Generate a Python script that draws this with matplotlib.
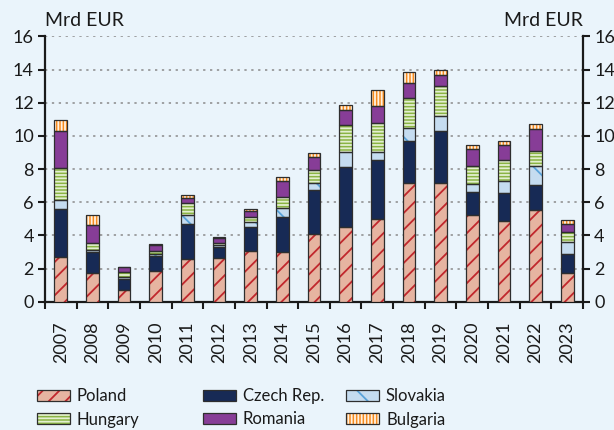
import numpy as np
import matplotlib
matplotlib.use("Agg")
import matplotlib.pyplot as plt
import matplotlib.patches as mpatches

# FDI inflows to the CEE-6, billions of EUR
years = [str(y) for y in range(2007, 2024)]
poland   = [2.68, 1.76, 0.72, 1.86, 2.56, 2.66, 3.08, 3.00, 4.08, 4.50, 5.00, 7.16, 7.18, 5.22, 4.88, 5.54, 1.74]
czech    = [2.90, 1.24, 0.62, 0.88, 2.10, 0.64, 1.42, 2.08, 2.64, 3.62, 3.54, 2.52, 3.14, 1.38, 1.68, 1.52, 1.16]
slovakia = [0.56, 0.14, 0.12, 0.12, 0.58, 0.14, 0.28, 0.58, 0.42, 0.88, 0.50, 0.80, 0.88, 0.50, 0.74, 1.10, 0.72]
hungary  = [1.92, 0.40, 0.34, 0.20, 0.72, 0.10, 0.34, 0.64, 0.80, 1.66, 1.76, 1.82, 1.82, 1.08, 1.26, 0.92, 0.60]
romania  = [2.24, 1.10, 0.28, 0.38, 0.28, 0.30, 0.34, 0.96, 0.80, 0.92, 0.98, 0.90, 0.68, 1.00, 0.90, 1.34, 0.48]
bulgaria = [0.64, 0.58, 0.04, 0.06, 0.20, 0.04, 0.12, 0.24, 0.22, 0.26, 0.96, 0.66, 0.30, 0.28, 0.26, 0.28, 0.22]

series = [
    # label, values, fill, hatch, hatch colour
    ("Poland",     poland,   "#E6B4A1", "//",    "#C1272D"),
    ("Czech Rep.", czech,    "#172A55", "",      "#172A55"),
    ("Slovakia",   slovakia, "#C5DCF0", "\\",    "#5AA3DA"),
    ("Hungary",    hungary,  "#8AB443", "-----", "#E3EFD0"),
    ("Romania",    romania,  "#873D97", "",      "#873D97"),
    ("Bulgaria",   bulgaria, "#F68B1F", "|||||", "#FFF1E0"),
]

bg = "#EAF4FB"
edge = "#2E2E2E"
plt.rcParams["font.family"] = ["Lato", "DejaVu Sans"]
plt.rcParams["hatch.linewidth"] = 1.3

fig = plt.figure(figsize=(6.14, 4.30), dpi=100, facecolor=bg)
ax = fig.add_axes([45 / 614, 1 - 301.7 / 430, 538 / 614, (301.7 - 36.4) / 430])
ax.set_facecolor(bg)

x = np.arange(len(years))
width = 0.4
bottom = np.zeros(len(years))
handles = {}
for label, vals, fill, hatch, hcol in series:
    vals = np.array(vals)
    # fill + hatch first, then the dark outline on top
    ax.bar(x, vals, width, bottom=bottom, color=fill, edgecolor=hcol,
           hatch=hatch, linewidth=0, zorder=3)
    ax.bar(x, vals, width, bottom=bottom, fill=False, edgecolor=edge,
           linewidth=0.9, zorder=4)
    h_fill = mpatches.Patch(facecolor=fill, edgecolor=hcol, hatch=hatch, linewidth=0)
    h_edge = mpatches.Patch(fill=False, edgecolor=edge, linewidth=0.9)
    handles[label] = (h_fill, h_edge)
    bottom += vals

ax.set_xlim(-0.5, len(years) - 0.5)
ax.set_ylim(0, 16)
ax.set_yticks(np.arange(0, 17, 2))
ax.set_xticks(x)
ax.set_xticklabels(years, rotation=90, fontsize=13, color="#1a1a1a")
ax.set_xticks(np.arange(-0.5, len(years), 1), minor=True)
ax.tick_params(axis="x", which="major", length=0, pad=14)
ax.tick_params(axis="x", which="minor", length=5, width=1.5, direction="out", color="#1a1a1a")
ax.tick_params(axis="y", length=5, width=1.5, direction="out", labelsize=13,
               left=True, right=True, labelleft=True, labelright=True,
               color="#1a1a1a", labelcolor="#1a1a1a", pad=3)

for side in ["left", "right", "bottom"]:
    ax.spines[side].set_linewidth(1.6)
    ax.spines[side].set_color("#1a1a1a")
ax.spines["top"].set_visible(False)

ax.yaxis.grid(True, linestyle=(0, (1.5, 3)), color="#8A8A8A", linewidth=1.1, zorder=0)
ax.set_axisbelow(True)

fig.text(45 / 614, 1 - 26 / 430, "Mrd EUR", fontsize=14, ha="left", va="baseline", color="#1a1a1a")
fig.text(583 / 614, 1 - 26 / 430, "Mrd EUR", fontsize=14, ha="right", va="baseline", color="#1a1a1a")

# legend in three columns, each placed on its own
columns = [(37, ["Poland", "Hungary"]), (203, ["Czech Rep.", "Romania"]), (346, ["Slovakia", "Bulgaria"])]
for xpx, labels in columns:
    fig.legend([handles[l] for l in labels], labels, loc="upper left",
               bbox_to_anchor=(xpx / 614, 1 - 388 / 430), frameon=False,
               fontsize=12, borderpad=0, borderaxespad=0, handlelength=2.0,
               handleheight=0.65, handletextpad=0.4, labelspacing=0.45,
               labelcolor="#1a1a1a")

fig.savefig("out.png", dpi=100, facecolor=bg)
